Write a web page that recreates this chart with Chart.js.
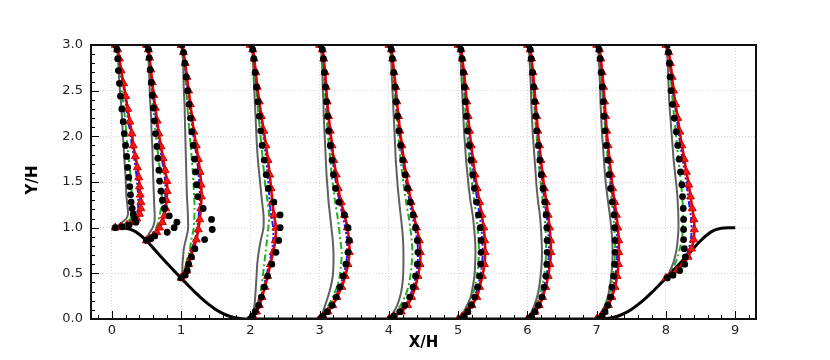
<!DOCTYPE html>
<html><head><meta charset="utf-8">
<script src="https://cdn.jsdelivr.net/npm/chart.js@4/dist/chart.umd.min.js"></script>
<style>html,body{margin:0;padding:0;background:#fff;}</style>
</head><body>
<canvas id="c" width="830" height="360"></canvas>
<script>
// Profile stations (X/H)
const stations = [0.05, 0.5, 1, 2, 3, 4, 5, 6, 7, 8];

// Y/H sample levels
const yFloor = [0, 0.03, 0.08, 0.15, 0.24, 0.35, 0.47, 0.6, 0.73, 0.86, 1.0, 1.14, 1.28, 1.43, 1.58, 1.74, 1.9, 2.06, 2.22, 2.38, 2.54, 2.7, 2.85, 2.95, 3.0];
const yCrest = [1.0, 1.01, 1.03, 1.06, 1.1, 1.15, 1.21, 1.28, 1.36, 1.45, 1.55, 1.66, 1.78, 1.9, 2.03, 2.16, 2.3, 2.44, 2.58, 2.72, 2.85, 2.95, 3.0];
const yHill05 = [0.86, 0.88, 0.91, 0.95, 1.0, 1.06, 1.13, 1.21, 1.3, 1.4, 1.51, 1.63, 1.76, 1.89, 2.03, 2.17, 2.31, 2.45, 2.59, 2.73, 2.86, 2.95, 3.0];
const yHill1 = [0.45, 0.48, 0.53, 0.6, 0.68, 0.77, 0.87, 0.98, 1.09, 1.21, 1.34, 1.47, 1.61, 1.75, 1.9, 2.05, 2.2, 2.35, 2.5, 2.65, 2.8, 2.92, 3.0];
const stationLevels = [yCrest, yHill05, yHill1, yFloor, yFloor, yFloor, yFloor, yFloor, yFloor, yHill1];

// Profile values (offset from station), one row per station
const grayU = [
 [0, 0.02, 0.05, 0.1, 0.16, 0.185, 0.18, 0.17, 0.16, 0.155, 0.15, 0.14, 0.13, 0.12, 0.11, 0.1, 0.09, 0.075, 0.06, 0.05, 0.04, 0.025, 0],
 [0, 0.01, 0.02, 0.05, 0.09, 0.115, 0.12, 0.115, 0.11, 0.105, 0.1, 0.095, 0.09, 0.085, 0.075, 0.07, 0.06, 0.05, 0.045, 0.035, 0.03, 0.02, 0],
 [0, 0.01, 0.02, 0.02, 0.03, 0.04, 0.07, 0.1, 0.1, 0.095, 0.085, 0.08, 0.075, 0.07, 0.065, 0.06, 0.055, 0.05, 0.04, 0.035, 0.03, 0.02, 0],
 [0, 0.02, 0.04, 0.06, 0.07, 0.08, 0.09, 0.1, 0.12, 0.15, 0.19, 0.19, 0.17, 0.15, 0.13, 0.11, 0.095, 0.085, 0.075, 0.065, 0.055, 0.045, 0.035, 0.025, 0],
 [0, 0.02, 0.05, 0.08, 0.12, 0.16, 0.19, 0.2, 0.2, 0.19, 0.17, 0.15, 0.13, 0.115, 0.1, 0.09, 0.08, 0.07, 0.06, 0.055, 0.045, 0.04, 0.03, 0.02, 0],
 [0, 0.03, 0.07, 0.12, 0.16, 0.19, 0.205, 0.21, 0.21, 0.205, 0.19, 0.17, 0.15, 0.13, 0.115, 0.1, 0.09, 0.08, 0.07, 0.06, 0.05, 0.04, 0.03, 0.02, 0],
 [0, 0.03, 0.08, 0.13, 0.18, 0.21, 0.235, 0.245, 0.25, 0.245, 0.23, 0.21, 0.18, 0.155, 0.135, 0.115, 0.1, 0.085, 0.075, 0.065, 0.055, 0.045, 0.035, 0.02, 0],
 [0, 0.03, 0.06, 0.1, 0.14, 0.17, 0.19, 0.205, 0.21, 0.205, 0.195, 0.18, 0.155, 0.135, 0.12, 0.105, 0.09, 0.075, 0.065, 0.055, 0.05, 0.04, 0.03, 0.02, 0],
 [0, 0.03, 0.07, 0.12, 0.16, 0.19, 0.21, 0.225, 0.23, 0.225, 0.21, 0.19, 0.165, 0.14, 0.12, 0.105, 0.09, 0.075, 0.065, 0.055, 0.05, 0.04, 0.03, 0.02, 0],
 [0, 0.03, 0.06, 0.1, 0.13, 0.155, 0.17, 0.18, 0.18, 0.175, 0.165, 0.15, 0.13, 0.11, 0.095, 0.08, 0.065, 0.05, 0.04, 0.035, 0.025, 0.015, 0]
];
const greenU = [
 [0, 0.05, 0.11, 0.17, 0.22, 0.24, 0.25, 0.25, 0.24, 0.23, 0.22, 0.21, 0.19, 0.175, 0.16, 0.145, 0.125, 0.105, 0.09, 0.07, 0.05, 0.03, 0],
 [0, 0.03, 0.06, 0.1, 0.14, 0.17, 0.19, 0.21, 0.22, 0.22, 0.21, 0.195, 0.175, 0.155, 0.135, 0.115, 0.1, 0.085, 0.07, 0.055, 0.04, 0.025, 0],
 [0, 0.03, 0.05, 0.07, 0.1, 0.13, 0.15, 0.18, 0.19, 0.195, 0.19, 0.18, 0.17, 0.155, 0.14, 0.12, 0.105, 0.09, 0.075, 0.06, 0.045, 0.03, 0],
 [0, 0.03, 0.06, 0.09, 0.13, 0.16, 0.18, 0.2, 0.22, 0.24, 0.26, 0.27, 0.25, 0.22, 0.2, 0.18, 0.16, 0.14, 0.12, 0.1, 0.085, 0.065, 0.045, 0.03, 0],
 [0, 0.03, 0.07, 0.13, 0.19, 0.25, 0.29, 0.31, 0.32, 0.3, 0.28, 0.255, 0.225, 0.2, 0.175, 0.155, 0.135, 0.115, 0.1, 0.085, 0.075, 0.06, 0.045, 0.03, 0],
 [0, 0.05, 0.11, 0.17, 0.23, 0.28, 0.31, 0.33, 0.34, 0.33, 0.31, 0.28, 0.25, 0.22, 0.195, 0.17, 0.15, 0.13, 0.11, 0.095, 0.08, 0.065, 0.045, 0.03, 0],
 [0, 0.04, 0.09, 0.15, 0.2, 0.24, 0.27, 0.29, 0.3, 0.295, 0.28, 0.26, 0.235, 0.21, 0.185, 0.165, 0.145, 0.125, 0.11, 0.095, 0.08, 0.065, 0.045, 0.03, 0],
 [0, 0.04, 0.08, 0.13, 0.17, 0.21, 0.24, 0.26, 0.27, 0.27, 0.26, 0.245, 0.225, 0.2, 0.18, 0.16, 0.145, 0.125, 0.11, 0.095, 0.08, 0.065, 0.05, 0.03, 0],
 [0, 0.04, 0.08, 0.13, 0.17, 0.21, 0.235, 0.255, 0.265, 0.265, 0.255, 0.24, 0.22, 0.2, 0.18, 0.16, 0.145, 0.125, 0.11, 0.095, 0.08, 0.065, 0.05, 0.03, 0],
 [0, 0.04, 0.08, 0.13, 0.17, 0.2, 0.23, 0.245, 0.25, 0.245, 0.235, 0.22, 0.2, 0.18, 0.16, 0.14, 0.12, 0.1, 0.085, 0.07, 0.05, 0.03, 0]
];
const blueU = [
 [0, 0.06, 0.14, 0.21, 0.27, 0.31, 0.33, 0.33, 0.33, 0.32, 0.31, 0.29, 0.27, 0.24, 0.22, 0.19, 0.165, 0.14, 0.11, 0.08, 0.055, 0.03, 0],
 [0, 0.04, 0.085, 0.13, 0.17, 0.21, 0.24, 0.26, 0.27, 0.275, 0.27, 0.25, 0.22, 0.195, 0.165, 0.14, 0.12, 0.095, 0.077, 0.06, 0.04, 0.027, 0],
 [0, 0.035, 0.07, 0.1, 0.13, 0.16, 0.2, 0.23, 0.25, 0.265, 0.27, 0.265, 0.25, 0.23, 0.2, 0.17, 0.145, 0.12, 0.1, 0.075, 0.055, 0.03, 0],
 [0, 0.03, 0.07, 0.11, 0.15, 0.19, 0.23, 0.27, 0.31, 0.33, 0.33, 0.3, 0.28, 0.265, 0.25, 0.23, 0.205, 0.18, 0.15, 0.12, 0.095, 0.075, 0.05, 0.03, 0],
 [0, 0.04, 0.1, 0.16, 0.22, 0.29, 0.34, 0.38, 0.4, 0.395, 0.37, 0.33, 0.29, 0.25, 0.22, 0.19, 0.165, 0.14, 0.12, 0.1, 0.085, 0.07, 0.055, 0.035, 0],
 [0, 0.07, 0.16, 0.24, 0.3, 0.35, 0.39, 0.415, 0.42, 0.41, 0.375, 0.335, 0.3, 0.265, 0.23, 0.2, 0.175, 0.15, 0.13, 0.11, 0.09, 0.07, 0.05, 0.03, 0],
 [0, 0.05, 0.11, 0.18, 0.24, 0.28, 0.32, 0.345, 0.355, 0.35, 0.335, 0.31, 0.28, 0.25, 0.22, 0.195, 0.17, 0.15, 0.13, 0.115, 0.095, 0.075, 0.055, 0.035, 0],
 [0, 0.05, 0.1, 0.15, 0.2, 0.24, 0.275, 0.3, 0.31, 0.31, 0.295, 0.275, 0.25, 0.225, 0.2, 0.18, 0.16, 0.14, 0.125, 0.105, 0.09, 0.075, 0.055, 0.035, 0],
 [0, 0.05, 0.1, 0.155, 0.2, 0.24, 0.27, 0.29, 0.295, 0.295, 0.285, 0.265, 0.24, 0.215, 0.195, 0.175, 0.155, 0.135, 0.12, 0.105, 0.09, 0.075, 0.055, 0.035, 0],
 [0, 0.07, 0.14, 0.22, 0.29, 0.33, 0.36, 0.37, 0.365, 0.345, 0.32, 0.3, 0.27, 0.24, 0.21, 0.18, 0.155, 0.13, 0.1, 0.08, 0.06, 0.035, 0]
];
const redU = [
 [0, 0.08, 0.17, 0.25, 0.31, 0.35, 0.37, 0.37, 0.36, 0.35, 0.34, 0.32, 0.29, 0.26, 0.24, 0.21, 0.18, 0.15, 0.12, 0.085, 0.06, 0.035, 0],
 [0, 0.05, 0.1, 0.15, 0.19, 0.23, 0.26, 0.28, 0.29, 0.3, 0.295, 0.27, 0.24, 0.21, 0.18, 0.155, 0.13, 0.105, 0.085, 0.065, 0.045, 0.03, 0],
 [0, 0.04, 0.08, 0.11, 0.14, 0.18, 0.22, 0.25, 0.27, 0.285, 0.295, 0.29, 0.275, 0.25, 0.22, 0.185, 0.16, 0.135, 0.11, 0.085, 0.06, 0.035, 0],
 [0, 0.04, 0.09, 0.13, 0.17, 0.21, 0.25, 0.29, 0.33, 0.36, 0.37, 0.34, 0.32, 0.3, 0.28, 0.255, 0.225, 0.195, 0.16, 0.13, 0.1, 0.08, 0.055, 0.035, 0],
 [0, 0.05, 0.12, 0.19, 0.25, 0.32, 0.37, 0.41, 0.43, 0.425, 0.4, 0.36, 0.31, 0.27, 0.24, 0.205, 0.18, 0.155, 0.13, 0.11, 0.095, 0.08, 0.06, 0.04, 0],
 [0, 0.08, 0.18, 0.27, 0.33, 0.38, 0.42, 0.45, 0.455, 0.44, 0.4, 0.36, 0.32, 0.285, 0.25, 0.215, 0.19, 0.16, 0.14, 0.115, 0.1, 0.075, 0.055, 0.035, 0],
 [0, 0.06, 0.13, 0.2, 0.27, 0.31, 0.35, 0.38, 0.39, 0.385, 0.37, 0.34, 0.31, 0.275, 0.245, 0.215, 0.19, 0.165, 0.145, 0.125, 0.105, 0.085, 0.06, 0.04, 0],
 [0, 0.06, 0.11, 0.17, 0.22, 0.265, 0.3, 0.325, 0.34, 0.335, 0.32, 0.3, 0.275, 0.245, 0.22, 0.195, 0.175, 0.15, 0.135, 0.115, 0.1, 0.08, 0.06, 0.04, 0],
 [0, 0.06, 0.11, 0.17, 0.22, 0.265, 0.295, 0.315, 0.32, 0.32, 0.305, 0.285, 0.26, 0.23, 0.21, 0.185, 0.165, 0.145, 0.13, 0.115, 0.1, 0.08, 0.06, 0.04, 0],
 [0, 0.08, 0.16, 0.25, 0.32, 0.37, 0.4, 0.41, 0.405, 0.38, 0.355, 0.33, 0.295, 0.265, 0.23, 0.2, 0.17, 0.14, 0.11, 0.09, 0.065, 0.04, 0]
];
const expU = [
 [0, 0.1, 0.2, 0.3, 0.28, 0.26, 0.245, 0.23, 0.22, 0.21, 0.195, 0.18, 0.165, 0.15, 0.13, 0.115, 0.095, 0.075, 0.06, 0.045, 0.035, 0.025, 0.01],
 [0, 0.06, 0.12, 0.3, 0.4, 0.44, 0.33, 0.26, 0.23, 0.21, 0.19, 0.18, 0.165, 0.15, 0.13, 0.115, 0.1, 0.085, 0.07, 0.055, 0.04, 0.03, 0.01],
 [0, 0.06, 0.09, 0.11, 0.15, 0.2, 0.34, 0.45, 0.44, 0.32, 0.24, 0.225, 0.21, 0.195, 0.175, 0.155, 0.135, 0.115, 0.095, 0.075, 0.055, 0.035, 0.01],
 [0, 0.03, 0.07, 0.12, 0.16, 0.2, 0.25, 0.31, 0.37, 0.41, 0.43, 0.43, 0.34, 0.26, 0.23, 0.2, 0.17, 0.15, 0.13, 0.11, 0.09, 0.07, 0.05, 0.035, 0.02],
 [0.01, 0.05, 0.11, 0.18, 0.24, 0.29, 0.34, 0.38, 0.41, 0.43, 0.41, 0.36, 0.28, 0.23, 0.2, 0.18, 0.155, 0.13, 0.115, 0.1, 0.085, 0.07, 0.055, 0.04, 0.02],
 [0.02, 0.07, 0.16, 0.23, 0.3, 0.35, 0.385, 0.41, 0.42, 0.41, 0.385, 0.35, 0.31, 0.27, 0.235, 0.2, 0.17, 0.145, 0.125, 0.105, 0.09, 0.07, 0.05, 0.035, 0.02],
 [0.03, 0.09, 0.14, 0.19, 0.24, 0.28, 0.31, 0.325, 0.33, 0.33, 0.32, 0.295, 0.265, 0.235, 0.21, 0.185, 0.16, 0.135, 0.12, 0.105, 0.09, 0.075, 0.055, 0.04, 0.02],
 [0.02, 0.06, 0.11, 0.16, 0.21, 0.24, 0.265, 0.28, 0.285, 0.285, 0.28, 0.27, 0.25, 0.225, 0.2, 0.18, 0.16, 0.135, 0.12, 0.105, 0.09, 0.075, 0.055, 0.04, 0.02],
 [0.03, 0.08, 0.12, 0.16, 0.2, 0.22, 0.245, 0.26, 0.265, 0.265, 0.26, 0.25, 0.225, 0.2, 0.18, 0.16, 0.14, 0.12, 0.105, 0.095, 0.08, 0.065, 0.05, 0.035, 0.02],
 [0.02, 0.1, 0.2, 0.27, 0.28, 0.265, 0.255, 0.255, 0.255, 0.25, 0.24, 0.23, 0.21, 0.19, 0.17, 0.15, 0.12, 0.095, 0.075, 0.06, 0.05, 0.035, 0.02]
];

// Hill geometry (X/H, Y/H)
const hillX = [0, 0.1, 0.2, 0.3, 0.4, 0.5, 0.6, 0.7, 0.8, 0.9, 1.0, 1.1, 1.2, 1.3, 1.4, 1.5, 1.6, 1.7, 1.8, 1.93, 7.07, 7.2, 7.3, 7.4, 7.5, 7.6, 7.7, 7.8, 7.9, 8.0, 8.1, 8.2, 8.3, 8.4, 8.5, 8.6, 8.7, 8.8, 8.9, 9.0];
const hillY = [1.0, 1.0, 0.994, 0.972, 0.925, 0.857, 0.776, 0.691, 0.607, 0.527, 0.448, 0.371, 0.295, 0.224, 0.16, 0.105, 0.062, 0.03, 0.01, 0, 0, 0.01, 0.03, 0.062, 0.105, 0.16, 0.224, 0.295, 0.371, 0.448, 0.527, 0.607, 0.691, 0.776, 0.857, 0.925, 0.972, 0.994, 1.0, 1.0];

// Axis ticks
const xTicks = [0, 1, 2, 3, 4, 5, 6, 7, 8, 9];
const yTicks = [0.0, 0.5, 1.0, 1.5, 2.0, 2.5, 3.0];

function profile(vals, i) {
  const lv = stationLevels[i];
  return vals[i].map((u, k) => ({ x: stations[i] + u, y: lv[k] }));
}

const datasets = [];
stations.forEach((s, i) => {
  datasets.push({ data: profile(grayU, i), borderColor: '#606060', borderWidth: 2, pointRadius: 0, showLine: true, tension: 0.3, order: 5 });
  datasets.push({ data: profile(greenU, i), borderColor: '#1fae1f', borderWidth: 2, borderDash: [7, 3, 2, 3], pointRadius: 0, showLine: true, tension: 0.3, order: 4 });
  datasets.push({ data: profile(blueU, i), borderColor: '#1a1aff', borderWidth: 2, borderDash: [6, 2, 2, 2, 2, 2], pointRadius: 0, showLine: true, tension: 0.3, order: 3 });
  datasets.push({ data: profile(redU, i), borderColor: '#e00000', borderWidth: 2.6, pointStyle: 'triangle', pointRadius: 4.6, pointBorderWidth: 1, pointBorderColor: '#d40000', pointBackgroundColor: '#f01818', showLine: true, tension: 0.3, order: 1 });
  datasets.push({ data: profile(expU, i), showLine: false, pointRadius: 3.4, pointBorderWidth: 0, pointBackgroundColor: '#000', pointBorderColor: '#000', order: 0 });
});
datasets.push({ data: hillX.map((x, k) => ({ x, y: hillY[k] })), borderColor: '#000', borderWidth: 3, pointRadius: 0, showLine: true, tension: 0.2, order: 2 });

const frame = {
  id: 'frame',
  afterDraw(chart) {
    const { ctx, chartArea: a, scales: { x, y } } = chart;
    ctx.save();
    ctx.strokeStyle = '#000';
    ctx.lineWidth = 1;
    for (let i = -1; i <= 46; i++) {
      const v = i * 0.2;
      const px = Math.round(x.getPixelForValue(v)) + 0.5;
      const len = (i % 5 === 0) ? 8 : 4;
      ctx.beginPath(); ctx.moveTo(px, a.bottom); ctx.lineTo(px, a.bottom - len); ctx.stroke();
    }
    for (let i = 0; i <= 30; i++) {
      const py = Math.round(y.getPixelForValue(i / 10)) + 0.5;
      const len = (i % 5 === 0) ? 8 : 4;
      ctx.beginPath(); ctx.moveTo(a.left, py); ctx.lineTo(a.left + len, py); ctx.stroke();
    }
    ctx.lineWidth = 2;
    ctx.strokeStyle = '#111';
    ctx.strokeRect(a.left, a.top, a.right - a.left, a.bottom - a.top);
    ctx.fillStyle = '#000';
    ctx.font = 'bold 15px "DejaVu Sans"';
    ctx.textAlign = 'center';
    ctx.textBaseline = 'middle';
    ctx.fillText('X/H', (a.left + a.right) / 2, 343);
    ctx.translate(33, 180);
    ctx.rotate(-Math.PI / 2);
    ctx.fillText('Y/H', 0, 0);
    ctx.restore();
  }
};

new Chart(document.getElementById('c'), {
  type: 'scatter',
  data: { datasets },
  options: {
    responsive: false,
    devicePixelRatio: 1,
    animation: false,
    events: [],
    layout: { padding: { left: 0, right: 74, top: 45, bottom: 0 } },
    plugins: { legend: { display: false }, tooltip: { enabled: false } },
    scales: {
      x: {
        type: 'linear', min: -0.3, max: 9.3,
        afterFit(s) { s.height = 41; },
        afterBuildTicks(s) { s.ticks = xTicks.map(v => ({ value: v })); },
        ticks: { padding: 4, color: '#222', font: { family: 'DejaVu Sans', size: 13 }, callback: v => String(v), maxRotation: 0, autoSkip: false },
        grid: { color: '#d6d6d6', lineWidth: 1, drawTicks: false },
        border: { display: false, dash: [1, 2] }
      },
      y: {
        type: 'linear', min: 0, max: 3,
        afterFit(s) { s.width = 91; },
        afterBuildTicks(s) { s.ticks = yTicks.map(v => ({ value: v })); },
        ticks: { padding: 8, color: '#222', font: { family: 'DejaVu Sans', size: 13 }, callback: v => Number(v).toFixed(1) },
        grid: { color: '#d6d6d6', lineWidth: 1, drawTicks: false },
        border: { display: false, dash: [1, 2] }
      }
    }
  },
  plugins: [frame]
});
</script>
</body></html>
